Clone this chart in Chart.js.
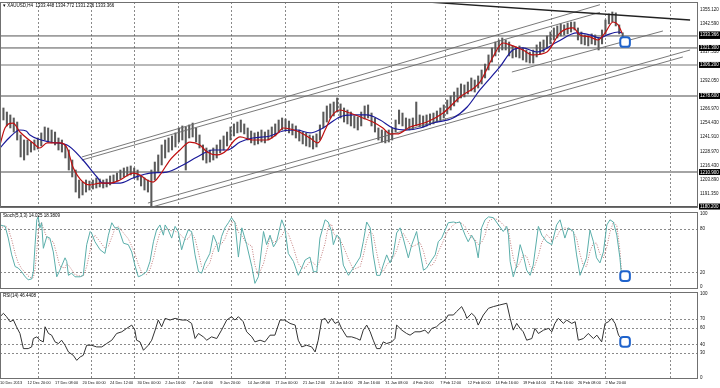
<!DOCTYPE html>
<html><head><meta charset="utf-8">
<script src="https://cdn.jsdelivr.net/npm/chart.js@4.4.1/dist/chart.umd.min.js"></script>
<style>
html,body{margin:0;padding:0;background:#fff;width:720px;height:388px;overflow:hidden}
canvas{position:absolute;left:0}
#c1{top:0}#c2{top:210px}#c3{top:291px}
</style></head><body>
<canvas id="c1" width="720" height="210"></canvas>
<canvas id="c2" width="720" height="81"></canvas>
<canvas id="c3" width="720" height="97"></canvas>
<script>
// time unit = one step of 8 hours (two H4 bars); labels every 8 steps
const timeLabels = ["10 Dec 2013","12 Dec 20:00","17 Dec 08:00","20 Dec 00:00","24 Dec 12:00","30 Dec 00:00","2 Jan 16:00","7 Jan 04:00","9 Jan 20:00","14 Jan 08:00","17 Jan 00:00","21 Jan 12:00","24 Jan 04:00","28 Jan 16:00","31 Jan 08:00","4 Feb 20:00","7 Feb 12:00","12 Feb 00:00","14 Feb 16:00","19 Feb 04:00","21 Feb 16:00","26 Feb 08:00","2 Mar 20:00"];
const gridT = [11.0,26.5,39.0,51.7,67.2,82.8,98.3,113.7,129.4,144.8,160.2,175.9,194.8];

const priceHigh = [1266.1,1267.9,1264.3,1261.7,1259.0,1255.4,1243.9,1239.4,1239.4,1237.6,
1239.4,1241.2,1245.7,1251.0,1250.1,1248.3,1246.5,1241.2,1239.4,1235.0,
1230.5,1221.6,1212.7,1203.8,1202.0,1203.8,1202.9,1203.8,1205.6,1204.7,
1203.8,1204.7,1207.4,1208.3,1210.0,1212.7,1214.5,1215.4,1216.3,1214.5,
1212.7,1207.4,1205.6,1203.8,1212.7,1219.8,1226.1,1235.0,1239.4,1241.2,
1243.0,1245.7,1250.1,1251.9,1251.0,1252.8,1254.5,1250.1,1243.9,1235.0,
1232.3,1230.5,1232.3,1235.0,1239.4,1243.0,1246.5,1251.0,1253.7,1255.4,
1257.2,1253.7,1250.1,1247.4,1245.7,1246.5,1248.3,1246.5,1248.3,1251.0,
1253.7,1257.2,1259.0,1258.1,1256.3,1253.7,1251.9,1248.3,1246.5,1245.7,
1243.9,1243.0,1244.8,1252.8,1264.3,1269.7,1271.5,1273.2,1276.8,1271.5,
1267.9,1266.1,1264.3,1260.8,1259.9,1264.3,1269.7,1270.6,1263.4,1259.0,
1250.1,1248.3,1247.4,1248.3,1250.1,1257.2,1266.1,1263.4,1259.0,1258.1,
1259.0,1273.2,1261.7,1260.8,1261.7,1262.6,1263.4,1265.2,1267.9,1270.6,
1275.0,1278.6,1282.1,1285.7,1289.3,1288.4,1291.0,1294.6,1292.8,1296.4,
1301.7,1307.0,1315.1,1321.3,1326.6,1328.4,1330.2,1328.4,1326.6,1323.1,
1322.2,1323.1,1321.3,1319.5,1317.7,1319.5,1324.0,1326.6,1328.4,1332.0,
1335.5,1339.1,1340.9,1342.7,1341.8,1343.5,1344.4,1344.4,1339.1,1335.5,
1332.9,1332.0,1333.8,1332.9,1330.2,1337.3,1346.2,1351.6,1353.3,1352.5,
1341.8,1334.8];
const priceLow = [1255.4,1257.2,1251.9,1250.1,1246.5,1239.4,1224.3,1221.6,1226.1,1228.7,
1230.5,1231.4,1234.1,1239.4,1237.6,1236.8,1235.0,1230.5,1228.7,1223.4,
1212.7,1206.5,1193.1,1187.8,1190.5,1193.1,1194.9,1195.8,1196.7,1197.6,
1196.7,1197.6,1199.4,1201.1,1202.9,1204.7,1206.5,1207.4,1208.3,1205.6,
1203.8,1198.5,1194.9,1193.1,1179.8,1203.8,1210.9,1217.2,1223.4,1228.7,
1230.5,1233.2,1237.6,1239.4,1212.7,1241.2,1242.1,1237.6,1232.3,1221.6,
1218.9,1219.8,1221.6,1223.4,1227.9,1230.5,1234.1,1239.4,1243.0,1245.7,
1246.5,1244.8,1239.4,1236.8,1235.0,1235.9,1237.6,1236.8,1239.4,1241.2,
1243.0,1246.5,1248.3,1247.4,1245.7,1243.9,1241.2,1238.5,1235.9,1234.1,
1233.2,1231.4,1233.2,1239.4,1250.1,1255.4,1259.0,1260.8,1264.3,1259.0,
1255.4,1253.7,1251.9,1250.1,1248.3,1251.9,1258.1,1259.0,1251.9,1246.5,
1239.4,1237.6,1236.8,1237.6,1239.4,1246.5,1253.7,1251.9,1249.2,1248.3,
1249.2,1251.9,1251.0,1251.0,1251.9,1252.8,1253.7,1255.4,1257.2,1259.0,
1262.6,1266.1,1269.7,1273.2,1276.8,1277.7,1280.4,1283.0,1282.1,1285.7,
1289.3,1294.6,1301.7,1308.8,1314.2,1317.7,1319.5,1319.5,1314.2,1312.4,
1313.3,1312.4,1310.6,1308.8,1307.9,1307.9,1313.3,1316.0,1317.7,1321.3,
1324.9,1328.4,1330.2,1332.0,1332.9,1333.8,1335.5,1337.3,1328.4,1324.9,
1324.0,1323.1,1324.9,1324.0,1319.5,1324.9,1333.8,1342.7,1344.4,1340.9,
1333.8,1331.2];

const maRedT = [0,1.45,3.8,5.8,9.6,11.6,13.7,17.4,19.5,21.2,24.1,26.2,29.1,32.0,34.9,38.7,40.7,42.7,44.5,46.5,49.4,52.3,55.2,58.1,60.2,63.1,66.0,67.7,69.8,73.5,77.6,80.5,82.3,86.3,90.1,92.4,94.5,96.5,98.8,101.7,105.5,108.4,111.3,113.4,115.4,119.2,124.1,128.8,133.7,139.5,143.3,146.2,148.3,152.0,154.9,159.0,162.8,166.6,168.6,171.5,173.8,175.9,178.2,179.7,180.8];
const maRed = [1235.0,1250.1,1254.5,1246.5,1236.8,1232.3,1236.8,1236.8,1232.3,1215.4,1202.0,1199.4,1201.1,1201.1,1203.8,1210.0,1208.3,1203.8,1202.0,1208.3,1221.6,1230.5,1237.6,1235.0,1228.7,1226.1,1230.5,1237.6,1242.1,1239.4,1239.4,1244.8,1250.1,1247.4,1241.2,1236.8,1248.3,1260.8,1266.1,1263.4,1259.0,1255.4,1250.1,1244.8,1244.8,1251.0,1255.4,1263.4,1277.7,1291.0,1313.3,1325.7,1324.0,1319.5,1315.1,1317.7,1334.7,1339.1,1332.9,1331.1,1328.4,1334.7,1344.4,1341.8,1334.7];
const maBlueT = [0,2.9,5.8,7.6,8.7,14.5,19.5,24.1,28.2,29.9,34.9,38.7,43.6,48.5,53.2,57.3,61.9,66.0,69.8,73.5,78.5,82.3,86.3,90.1,93.9,98.8,102.6,106.7,110.5,114.2,118.3,122.1,125.9,131.7,135.8,139.5,145.3,149.1,152.0,156.1,161.9,167.7,171.5,174.4,176.5,179.7,180.8];
const maBlue = [1232.3,1242.1,1248.3,1247.4,1243.9,1237.6,1235.0,1221.6,1206.5,1201.1,1201.1,1205.6,1210.0,1210.9,1217.2,1224.3,1230.5,1230.5,1237.6,1241.2,1243.0,1247.4,1248.3,1245.7,1250.1,1259.9,1261.7,1261.7,1257.2,1250.1,1248.3,1250.1,1254.5,1259.0,1268.8,1283.9,1304.4,1319.5,1321.3,1317.7,1326.6,1334.7,1332.9,1330.2,1332.9,1335.5,1334.7];

const levels = [1332.0,1321.3,1306.2,1278.6,1210.9,1180.2];
const bidPrice = 1333.366;
const priceTicks = [1355.120,1342.590,1317.510,1292.050,1266.970,1254.430,1241.910,1228.970,1216.430,1203.890,1191.350];
// channel / trend lines: [t1, price1, t2, price2]
const channels = [
  [23.8,1224.3,174.4,1359.8],
  [23.8,1221.6,174.4,1353.0],
  [43.0,1183.3,200.6,1319.5],
  [44.2,1179.8,198.5,1313.3],
  [148.8,1299.9,192.7,1336.4]
];
const trendLine = [120.1,1363.1,200.6,1346.2];
const markerT = 181.7, markerPrice = 1326.6, markerStoch = 15, markerRsi = 43;

const stochT = [0,1.5,2.4,3.4,4.4,5.3,6.3,7.3,8.2,9.2,9.7,10.2,10.7,11.1,11.6,12.1,12.6,13.6,14.5,15.5,16.5,17.4,18.9,19.4,19.9,20.8,21.8,23.3,24.2,25.2,26.2,26.6,27.6,29.1,30.5,31.5,32.5,33.4,34.4,35.9,37.3,38.3,39.2,40.2,41.2,42.6,43.6,44.6,45.5,46.5,47.5,48.0,48.9,49.9,50.9,51.8,52.8,53.8,54.7,55.7,56.7,57.7,58.6,59.6,61.0,62.0,63.0,63.5,64.4,65.4,66.4,67.3,68.3,69.3,70.3,71.7,73.2,74.1,75.1,76.6,77.5,78.5,79.5,80.4,81.9,82.8,83.8,85.3,86.7,87.7,88.7,90.1,91.1,92.1,93.0,94.5,95.4,96.4,96.9,97.9,98.8,99.8,101.3,102.7,104.7,105.6,106.6,107.6,108.5,109.5,110.5,111.4,112.4,113.4,114.3,115.3,116.3,117.2,118.7,119.7,121.1,122.1,123.1,124.0,125.5,126.5,127.4,128.4,129.4,130.3,131.8,132.7,133.7,135.2,136.1,137.1,138.1,139.0,140.0,141.0,142.0,143.4,144.9,146.3,147.3,147.8,148.3,149.2,150.2,151.2,152.1,153.1,154.1,155.0,156.5,157.5,158.9,160.4,161.8,162.8,164.2,165.2,166.7,167.6,168.6,169.6,170.5,171.5,172.5,173.4,174.4,175.4,176.4,177.3,178.3,179.3,180.2,180.7];
const stochMain = [85,83,67,44,28,26,21,14,10,11,21,58,92,96,81,88,53,69,67,48,14,23,40,35,16,19,14,14,16,58,76,74,62,51,46,71,88,81,81,60,58,48,30,14,16,21,35,62,78,85,71,85,78,67,83,76,51,67,78,76,44,21,19,33,46,71,60,48,69,81,88,95,88,41,81,58,28,5,14,76,58,71,55,62,92,81,46,35,16,26,37,41,21,21,67,92,89,76,58,71,67,30,16,26,41,62,89,81,44,16,16,30,44,33,44,74,81,67,40,58,76,48,23,26,37,44,62,67,78,88,89,88,89,71,62,71,62,40,81,92,96,95,85,76,83,71,35,14,30,58,44,23,16,30,83,71,62,58,85,92,67,81,76,44,16,28,40,78,62,40,33,48,85,92,89,71,40,14.025];
const stochSignal = [80,84,80,65,46,33,25,20,15,12,13,25,50,75,88,88,80,68,64,62,45,28,26,32,30,24,17,15,15,28,50,62,71,62,53,56,68,80,83,74,66,56,46,31,20,17,24,39,58,75,78,80,78,77,76,75,70,65,66,74,66,47,28,24,33,50,59,60,59,66,79,88,90,75,70,60,56,30,16,32,49,68,61,63,70,78,73,54,32,26,26,35,33,28,36,60,83,86,74,68,65,56,38,24,28,43,64,77,71,47,25,21,30,36,40,50,66,74,62,55,58,61,49,32,29,36,48,58,69,78,85,88,89,83,74,68,65,58,61,71,90,94,92,85,81,78,63,40,26,34,44,42,28,23,43,61,72,64,68,78,81,80,75,67,45,29,28,49,60,60,45,40,55,75,89,84,50,18.3809];

const rsiT = [0,1.0,1.9,2.9,3.9,4.8,5.8,6.8,8.2,9.2,9.7,10.7,11.6,12.6,13.1,14.1,15.0,16.0,17.0,17.9,18.9,19.9,21.3,22.3,23.3,24.2,25.2,26.6,28.1,29.6,31.0,32.5,33.9,35.4,36.8,38.3,39.2,39.7,40.7,41.7,43.1,44.1,45.1,46.0,47.0,48.0,49.4,50.9,52.8,54.3,55.7,56.7,57.7,59.1,60.1,61.5,63.0,64.4,65.9,67.3,68.3,69.3,70.7,71.7,73.2,74.1,75.6,77.0,78.5,79.9,81.4,82.8,84.3,85.8,86.7,87.7,89.1,90.6,91.6,92.5,93.5,94.5,95.4,96.4,97.4,98.4,99.3,100.8,102.2,103.7,104.7,105.6,106.6,107.6,108.5,109.5,110.5,111.4,112.4,113.9,114.8,115.3,116.8,118.2,119.2,120.6,122.1,123.5,124.5,125.5,126.9,127.9,129.4,130.3,131.8,132.7,134.2,135.2,135.7,137.1,138.1,139.0,140.5,142.0,143.4,145.3,147.3,148.3,149.2,150.2,151.2,152.1,153.1,154.6,155.5,156.5,158.0,159.4,160.4,161.3,162.3,163.8,164.7,166.2,167.2,168.1,169.6,171.0,172.5,173.5,174.9,175.9,176.9,177.8,178.8,179.8,180.7];
const rsiValues = [73,77,73,67,69,61,53,35,35,37,47,49,45,43,61,53,51,43,41,45,39,31,27,21,25,27,39,39,37,37,41,45,53,55,59,63,57,45,43,33,39,45,57,69,61,71,69,71,69,69,65,47,53,49,45,49,47,57,69,73,69,73,67,55,49,43,45,43,51,51,69,69,65,63,45,37,39,37,31,45,69,71,65,71,65,67,59,49,49,47,45,57,63,55,45,35,35,43,41,43,47,63,57,53,51,55,55,57,53,59,61,65,69,75,75,79,85,77,71,77,73,63,75,83,85,87,89,71,57,65,59,55,45,47,59,53,57,59,55,65,71,65,69,65,67,45,47,53,47,51,43,65,67,71,65,51,46.4408];
const stochLevels = [80,20];
const rsiLevels = [70,60,40,30];

// ---------- rendering ----------
const X_MIN = 0, X_MAX = 202.9;
const FONT = {family:'"Liberation Sans", Arial, sans-serif', size:4.5};
const XFONT = {family:'"Liberation Sans", Arial, sans-serif', size:3.9};
const pts = (ts, vs) => ts.map((t,i)=>({x:t,y:vs[i]}));
const seg = s => [{x:s[0],y:s[1]},{x:s[2],y:s[3]}];

const panel = {
  id:'panel',
  beforeDatasetsDraw(chart,_a,o){
    const {ctx, chartArea:a, scales:{x,y}} = chart;
    ctx.save();
    ctx.beginPath(); ctx.rect(a.left,a.top,a.width,a.height); ctx.clip();
    ctx.lineWidth = 1; ctx.strokeStyle = '#8a8a8a'; ctx.setLineDash([2,2]);
    gridT.forEach(t=>{const px=Math.round(x.getPixelForValue(t))+0.5;ctx.beginPath();ctx.moveTo(px,a.top);ctx.lineTo(px,a.bottom);ctx.stroke();});
    (o.levels||[]).forEach(v=>{const py=Math.round(y.getPixelForValue(v))+0.5;ctx.beginPath();ctx.moveTo(a.left,py);ctx.lineTo(a.right,py);ctx.stroke();});
    ctx.restore();
  },
  afterDraw(chart,_a,o){
    const {ctx, chartArea:a, scales:{y}} = chart;
    ctx.save();
    ctx.strokeStyle='#707070'; ctx.lineWidth=1;
    ctx.strokeRect(a.left+0.5,a.top+0.5,a.width-1,a.height-1);
    ctx.font = '4.5px "Liberation Sans", Arial, sans-serif';
    ctx.textBaseline='middle';
    if(o.title){ctx.fillStyle='#000';ctx.fillText(o.title,a.left+3,a.top+3.5);}
    (o.boxes||[]).forEach(v=>{
      const py=y.getPixelForValue(v);
      ctx.fillStyle='#000'; ctx.fillRect(a.right+1,py-3,21,6);
      ctx.fillStyle='#fff'; ctx.fillText(v.toFixed(3),a.right+2,py+0.3);
    });
    ctx.restore();
  }
};

function yAxis(min,max,ticks,fmt){
  return {position:'right',min,max,
    afterBuildTicks:s=>{s.ticks=ticks.map(v=>({value:v}));},
    afterFit:s=>{s.width=22;s.paddingTop=0;s.paddingBottom=0;},
    ticks:{font:FONT,color:'#111',padding:2,autoSkip:false,callback:fmt},
    grid:{display:false,drawTicks:false},border:{display:false}};
}
const base = {responsive:false,animation:false,devicePixelRatio:1,events:[]};

const levelStyle = [['#555',1],['#555',1],['#b9b9b9',2],['#a4a4a4',2],['#a4a4a4',2],['#555',1]];
const mainSets = [
  {type:'line',data:[{x:markerT,y:markerPrice}],showLine:false,pointStyle:'rectRounded',pointRadius:5.6,borderColor:'#1f63cc',borderWidth:2,backgroundColor:'#fff',order:0},
  {type:'line',data:pts(maRedT,maRed),borderColor:'#c01010',borderWidth:1.2,pointRadius:0,cubicInterpolationMode:'monotone',order:1},
  {type:'line',data:pts(maBlueT,maBlue),borderColor:'#1a1a9a',borderWidth:1.2,pointRadius:0,cubicInterpolationMode:'monotone',order:1},
  {type:'line',data:seg(trendLine),borderColor:'#222',borderWidth:1.4,pointRadius:0,order:2},
  ...channels.map(c=>({type:'line',data:seg(c),borderColor:'#6a6a6a',borderWidth:0.9,pointRadius:0,order:2})),
  {type:'bar',data:priceHigh.map((h,i)=>({x:i,y:[priceLow[i],h]})),backgroundColor:'#5a5a5a',barThickness:1.4,order:3},
  ...levels.map((v,i)=>({type:'line',data:[{x:X_MIN,y:v},{x:X_MAX,y:v}],borderColor:levelStyle[i][0],borderWidth:levelStyle[i][1],pointRadius:0,order:4}))
];

new Chart(document.getElementById('c1'),{
  type:'bar', data:{datasets:mainSets},
  options:{...base,layout:{autoPadding:false,padding:{top:2,bottom:2,left:0,right:0}},
    plugins:{legend:{display:false},tooltip:{enabled:false},
      panel:{title:'\u25BE XAUUSD,H4  1333.448 1334.772 1331.236 1333.366',boxes:[...levels,bidPrice]}},
    scales:{x:{type:'linear',min:X_MIN,max:X_MAX,offset:false,display:false},
      y:yAxis(1178.9,1362.2,priceTicks,v=>v.toFixed(3))}},
  plugins:[panel]
});

new Chart(document.getElementById('c2'),{
  type:'line',
  data:{datasets:[
    {data:[{x:markerT,y:markerStoch}],showLine:false,pointStyle:'rectRounded',pointRadius:5.6,borderColor:'#1f63cc',borderWidth:2,backgroundColor:'#fff',order:0},
    {data:pts(stochT,stochMain),borderColor:'#5aaeaa',borderWidth:1,pointRadius:0,order:1},
    {data:pts(stochT,stochSignal),borderColor:'#c07a7a',borderWidth:1,borderDash:[1,1.5],pointRadius:0,order:2}
  ]},
  options:{...base,layout:{autoPadding:false,padding:{top:2,bottom:2,left:0,right:0}},
    plugins:{legend:{display:false},tooltip:{enabled:false},panel:{title:'Stoch(5,3,3) 14.025 18.3809',levels:stochLevels}},
    scales:{x:{type:'linear',min:X_MIN,max:X_MAX,display:false},
      y:yAxis(-2.7,102.7,[100,80,20,0],v=>String(v))}},
  plugins:[panel]
});

new Chart(document.getElementById('c3'),{
  type:'line',
  data:{datasets:[
    {data:[{x:markerT,y:markerRsi}],showLine:false,pointStyle:'rectRounded',pointRadius:5.6,borderColor:'#1f63cc',borderWidth:2,backgroundColor:'#fff',order:0},
    {data:pts(rsiT,rsiValues),borderColor:'#333',borderWidth:1,pointRadius:0,order:1}
  ]},
  options:{...base,layout:{autoPadding:false,padding:{top:1,bottom:0,left:0,right:0}},
    plugins:{legend:{display:false},tooltip:{enabled:false},panel:{title:'RSI(14) 46.4408',levels:rsiLevels}},
    scales:{x:{type:'linear',min:X_MIN,max:X_MAX,
        afterBuildTicks:s=>{s.ticks=timeLabels.map((_,i)=>({value:i*8}));},
        afterFit:s=>{s.height=9;s.paddingLeft=0;s.paddingRight=0;},
        ticks:{font:XFONT,color:'#111',padding:2,align:'start',autoSkip:false,maxRotation:0,minRotation:0,callback:(v,i)=>timeLabels[i]},
        grid:{display:false,drawTicks:false},border:{display:false}},
      y:yAxis(-1.2,102.4,[100,70,60,40,30,0],v=>String(v))}},
  plugins:[panel]
});
</script>
</body></html>
